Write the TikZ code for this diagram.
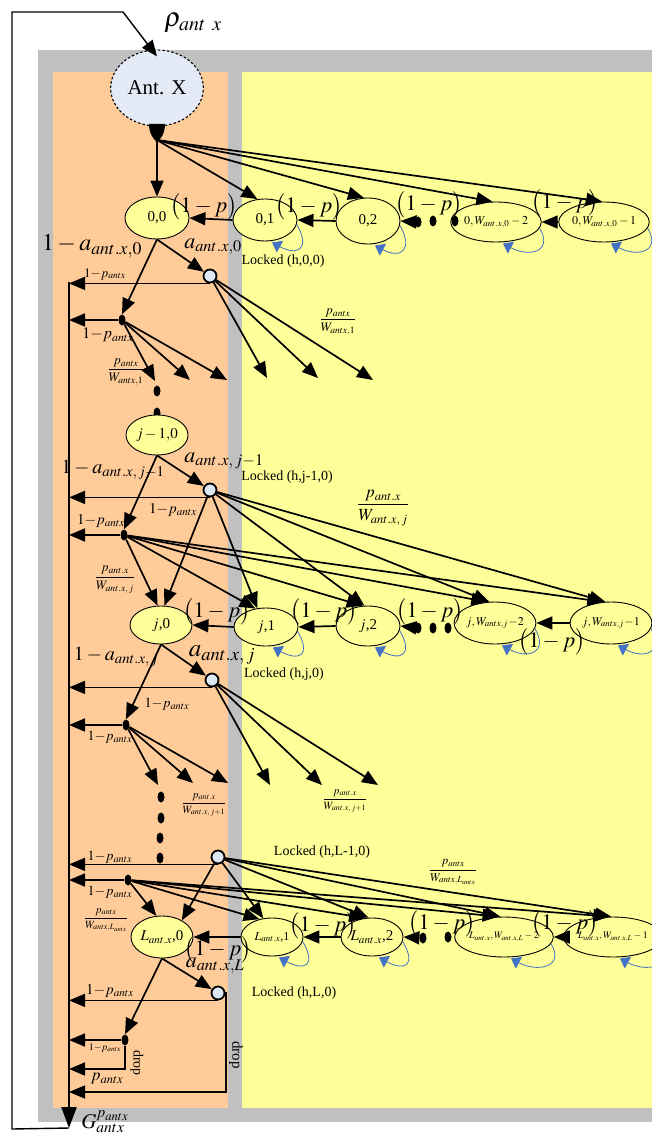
\documentclass[tikz,border=0pt]{standalone}
\usepackage{mathptmx}
\usepackage{fontspec}
\setmainfont{Liberation Serif}
\usetikzlibrary{arrows.meta,shapes.geometric,calc}
\definecolor{gbg}{HTML}{C0C0C0}
\definecolor{obg}{HTML}{FFCC99}
\definecolor{ybg}{HTML}{FFFF99}
\definecolor{sfill}{HTML}{FFFF99}
\definecolor{afill}{HTML}{E4EAF6}
\definecolor{lfill}{HTML}{DDE7F4}
\definecolor{lblue}{HTML}{4472C4}
\newcommand{\fsz}[1]{\fontsize{#1}{#1}\selectfont}
\newcommand{\selfloop}[1]{\draw[sloop] (#1.-8) .. controls +(14,24) and +(26,14) .. ($(#1.south)+(7,1)$);}
\begin{document}
\begin{tikzpicture}[x=1pt,y=-1pt,
 stt/.style={ellipse,draw,line width=0.9pt,fill=sfill,inner sep=0pt,minimum width=64pt,minimum height=42pt,font=\fsz{15}},
 lck/.style={circle,draw,line width=1.8pt,fill=lfill,inner sep=0pt,minimum size=13pt},
 bdot/.style={ellipse,fill=black,inner sep=0pt,minimum width=7pt,minimum height=11pt},
 arr/.style={line width=1.7pt,-{Triangle[length=16pt,width=13pt]}},
 sloop/.style={draw=lblue,line width=0.8pt,-{Triangle[length=9pt,width=13pt]}},
 lbltxt/.style={inner sep=0pt,font=\fsz{14}},
 lblpp/.style={inner sep=0pt,font=\fsz{22}},
 lblpa/.style={inner sep=0pt,font=\fsz{13}},
 lblfr/.style={inner sep=0pt,font=\fsz{12}},
 lblbig/.style={inner sep=0pt,font=\fsz{22}},
 lbldrop/.style={inner sep=0pt,font=\fsz{15},rotate=-90}]
\useasboundingbox (0,0) rectangle (652,1139);
\fill[gbg] (38,50) rectangle (652,1122);
\fill[obg] (53,72) rectangle (228,1108);
\fill[ybg] (242,72) rectangle (652,1108);

% main collecting line
\coordinate (mx) at (69,0);
\coordinate (mt) at (69,282);
\coordinate (mb) at (69,1128);
\draw[line width=2.2pt,-{Triangle[length=21pt,width=15pt]}] (mt) -- (mb);

% Ant X
\node[ellipse,draw,line width=1.1pt,dash pattern=on 2.5pt off 2pt,fill=afill,minimum width=84pt,minimum height=76pt,font=\fsz{21}] (antx) at (157,88) {Ant. X};
\node[inner sep=0pt,font=\fsz{27}] (rho) at (193,23) {$\rho_{ant\ x}$};
\coordinate (c1) at (12,1129);
\coordinate (c2) at (12,12);
\coordinate (c3) at (123,12);
\draw[arr,line width=1.4pt] (mb) -- (c1) -- (c2) -- (c3) -- ($(antx.north)+(0,7)$);
\fill (149,124) -- (165,124) .. controls (165,133) and (161,139) .. (157,142) .. controls (153,139) and (149,133) .. (149,124) -- cycle;
\coordinate (hub) at (157,140);

% Row 0
\node[stt] (s00) at (157,218) {0,0};
\node[stt] (s01) at (265,220) {0,1};
\node[stt,minimum height=46pt] (s02) at (368,221) {0,2};
\node[stt,minimum width=68pt,minimum height=40pt,font=\fsz{12}] (s0a) at (496,222) {$0,W_{ant.x,0}-2$};
\node[stt,minimum height=40pt,font=\fsz{12}] (s0b) at (604,222) {$0,W_{ant.x,0}-1$};
\draw[arr] (hub) -- (s00.north);
\draw[arr] (hub) -- (s01.110);
\draw[arr] (hub) -- (s02.100);
\draw[arr] (hub) -- (s0a.100);
\draw[arr] (hub) -- (s0b.95);
\draw[arr] (s01.west) -- (s00.east);
\draw[arr] (s02.west) -- (s01.east);
\node[bdot] (q0a) at (418,222) {};
\node[bdot] (q0b) at (433,221) {};
\node[bdot] (q0c) at (455,221) {};
\draw[arr] (q0a) -- (s02.east);
\draw[arr] (s0b.west) -- (s0a.east);
\selfloop{s01}\selfloop{s02}\selfloop{s0a}\selfloop{s0b}
\node[lblpp] (p0a) at (204,207) {$\big(1-p\big)$};
\node[lblpp] (p0b) at (309,207) {$\big(1-p\big)$};
\node[lblpp] (p0c) at (429,205) {$\big(1-p\big)$};
\node[lblpp] (p0d) at (565,203) {$\big(1-p\big)$};

\node[inner sep=0pt,font=\fsz{24}] (na0) at (92,246) {$1-a_{ant.x,0}$};
\node[lblbig] (a0) at (213,247) {$a_{ant.x,0}$};
\node[lbltxt] (t0) at (283,261) {Locked (h,0,0)};
\node[lck] (k0) at (210,276) {};
\node[bdot] (d0) at (122,320) {};
\draw[arr] (s00.south) -- (k0);
\draw[arr] (s00.south) -- (d0.north);
\draw[arr] (k0.south) -- (k0.south -| mx);
\draw[arr] (d0) -- (d0 -| mx);
\node[lblpa] (pa0) at (105,274) {$1{-}p_{antx}$};
\node[inner sep=0pt,font=\fsz{16}] (pb0) at (108,335) {$1{-}p_{antx}$};
\coordinate (f0a) at (155,381);
\coordinate (f0b) at (190,380);
\coordinate (f0c) at (227,380);
\coordinate (g0a) at (267,378);
\coordinate (g0b) at (318,378);
\coordinate (g0c) at (373,380);
\draw[arr] (d0) -- (f0a);
\draw[arr] (d0) -- (f0b);
\draw[arr] (d0) -- (f0c);
\draw[arr] (k0) -- (g0a);
\draw[arr] (k0) -- (g0b);
\draw[arr] (k0) -- (g0c);
\node[lblfr,font=\fsz{13}] (fr0a) at (126,372) {$\displaystyle\frac{p_{antx}}{W_{antx,1}}$};
\node[lblfr,font=\fsz{13}] (fr0b) at (338,322) {$\displaystyle\frac{p_{antx}}{W_{antx,1}}$};
\node[bdot] (v0a) at (157,391) {};
\node[bdot] (v0b) at (157,413) {};

% Row j-1
\node[stt,minimum width=62pt,minimum height=40pt] (sj1) at (157,435) {$j-1{,}0$};
\node[lblbig] (a1) at (224,461) {$a_{ant.x,\,j-1}$};
\node[inner sep=0pt,font=\fsz{20}] (na1) at (113,470) {$1-a_{ant.x,\,j-1}$};
\node[lbltxt] (t1) at (287,477) {Locked (h,j-1,0)};
\node[lck] (k1) at (210,490) {};
\node[bdot] (d1) at (124,535) {};
\draw[arr] (sj1.south) -- (k1);
\draw[arr] (sj1.south) -- (d1.north);
\draw[arr] (k1.south) -- (k1.south -| mx);
\draw[arr] (d1) -- (d1 -| mx);
\node[lblpa,font=\fsz{15}] (pa1) at (173,510) {$1{-}p_{antx}$};
\node[lblpa,font=\fsz{15}] (pb1) at (101,521) {$1{-}p_{antx}$};
\node[inner sep=0pt,font=\fsz{13}] (fr1a) at (115,580) {$\displaystyle\frac{p_{ant.x}}{W_{ant.x,\,j}}$};
\node[inner sep=0pt,font=\fsz{17}] (fr1b) at (383,508) {$\displaystyle\frac{p_{ant.x}}{W_{ant.x,\,j}}$};

% Row j
\node[stt,minimum width=62pt,minimum height=38pt] (nj0) at (161,625) {$j$,0};
\node[stt,minimum height=38pt] (nj1) at (266,627) {$j$,1};
\node[stt,minimum height=40pt] (nj2) at (368,626) {$j$,2};
\node[stt,minimum height=42pt,font=\fsz{12}] (njw2) at (495,623) {$j,W_{antx,j}\!-\!2$};
\node[stt,minimum width=72pt,minimum height=42pt,font=\fsz{12}] (njw1) at (611,623) {$j,W_{antx,j}\!-\!1$};
\draw[arr] (k1) -- (nj0.80);
\draw[arr] (d1) -- (nj0.100);
\draw[arr] (k1) -- (nj1.115);
\draw[arr] (d1) -- (nj1.120);
\draw[arr] (k1) -- (nj2.100);
\draw[arr] (d1) -- (nj2.105);
\draw[arr] (k1) -- (njw2.105);
\draw[arr] (d1) -- (njw2.110);
\draw[arr] (k1) -- (njw1.105);
\draw[arr] (d1) -- (njw1.110);
\draw[arr] (nj1.west) -- (nj0.east);
\draw[arr] (nj2.west) -- (nj1.east);
\node[bdot] (qja) at (418,628) {};
\node[bdot] (qjb) at (433,628) {};
\node[bdot] (qjc) at (448,628) {};
\draw[arr] (qja) -- (nj2.east);
\draw[arr] (njw1.west) -- (njw2.east);
\selfloop{nj1}\selfloop{nj2}\selfloop{njw2}\selfloop{njw1}
\node[lblpp] (pja) at (217,612) {$\big(1-p\big)$};
\node[lblpp] (pjb) at (324,612) {$\big(1-p\big)$};
\node[lblpp] (pjc) at (430,612) {$\big(1-p\big)$};
\node[lblpp] (pjd) at (552,642) {$\big(1-p\big)$};

\node[inner sep=0pt,font=\fsz{20}] (na2) at (116,657) {$1-a_{ant.x,\,j}$};
\node[inner sep=0pt,font=\fsz{25}] (a2) at (222,655) {$a_{ant.x,\,j}$};
\node[lbltxt] (t2) at (284,674) {Locked (h,j,0)};
\node[lck] (k2) at (212,680) {};
\node[bdot] (d2) at (126,725) {};
\draw[arr] (nj0.south) -- (k2);
\draw[arr] (nj0.south) -- (d2.north);
\draw[arr] (k2.south) -- (k2.south -| mx);
\draw[arr] (d2) -- (d2 -| mx);
\node[lblpa,font=\fsz{14}] (pa2) at (167,704) {$1{-}p_{antx}$};
\node[lblpa,font=\fsz{14}] (pb2) at (110,737) {$1{-}p_{antx}$};
\coordinate (f2a) at (158,785);
\coordinate (f2b) at (193,783);
\coordinate (f2c) at (228,783);
\coordinate (g2a) at (270,785);
\coordinate (g2b) at (322,785);
\coordinate (g2c) at (378,785);
\draw[arr] (d2) -- (f2a);
\draw[arr] (d2) -- (f2b);
\draw[arr] (d2) -- (f2c);
\draw[arr] (k2) -- (g2a);
\draw[arr] (k2) -- (g2b);
\draw[arr] (k2) -- (g2c);
\node[lblfr,font=\fsz{11}] (fr2a) at (204,805) {$\displaystyle\frac{p_{ant.x}}{W_{ant.x,\,j+1}}$};
\node[lblfr,font=\fsz{11}] (fr2b) at (345,801) {$\displaystyle\frac{p_{ant.x}}{W_{ant.x,\,j+1}}$};
\node[bdot] (v2a) at (161,797) {};
\node[bdot] (v2b) at (161,818) {};
\node[bdot] (v2c) at (160,838) {};
\node[bdot] (v2d) at (160,858) {};

% Row L-1
\node[lck] (k3) at (218,857) {};
\node[lbltxt] (t3) at (322,852) {Locked (h,L-1,0)};
\node[bdot] (d3) at (128,880) {};
\draw[arr] (k3.south) -- (k3.south -| mx);
\draw[arr] (d3) -- (d3 -| mx);
\node[lblpa,font=\fsz{14}] (pa3) at (110,857) {$1{-}p_{antx}$};
\node[lblpa,font=\fsz{14}] (pb3) at (110,892) {$1{-}p_{antx}$};
\node[lblfr,font=\fsz{11}] (fr3a) at (106,920) {$\displaystyle\frac{p_{antx}}{W_{antx,L_{antx}}}$};
\node[lblfr,font=\fsz{12}] (fr3b) at (453,872) {$\displaystyle\frac{p_{antx}}{W_{antx,L_{antx}}}$};

% Row L
\node[stt,minimum width=62pt,minimum height=42pt] (nL0) at (162,937) {$L_{ant.x}$,0};
\node[stt,minimum width=62pt,minimum height=38pt,font=\fsz{12}] (nL1) at (272,937) {$L_{ant.x}$,1};
\node[stt,minimum width=62pt,minimum height=38pt] (nL2) at (372,937) {$L_{ant.x}$,2};
\node[stt,minimum width=76pt,minimum height=40pt,font=\fsz{10}] (nLw2) at (504,937) {$L_{ant.x},W_{ant.x,L}-2$};
\node[stt,minimum width=72pt,minimum height=40pt,font=\fsz{10}] (nLw1) at (613,937) {$L_{ant.x},W_{ant.x,L}-1$};
\draw[arr] (d3) -- (nL0.105);
\draw[arr] (k3) -- (nL0.40);
\draw[arr] (k3) -- (nL1.115);
\draw[arr] (d3) -- (nL1.125);
\draw[arr] (k3) -- (nL2.100);
\draw[arr] (d3) -- (nL2.110);
\draw[arr] (k3) -- (nLw2.100);
\draw[arr] (d3) -- (nLw2.105);
\draw[arr] (k3) -- (nLw1.95);
\draw[arr] (d3) -- (nLw1.100);
\draw[arr] (nL1.west) -- (nL0.east);
\draw[arr] (nL2.west) -- (nL1.east);
\node[bdot] (qLa) at (423,938) {};
\node[bdot] (qLb) at (448,937) {};
\draw[arr] (qLa) -- (nL2.east);
\draw[arr] (nLw1.west) -- (nLw2.east);
\selfloop{nL1}\selfloop{nL2}\selfloop{nLw2}\selfloop{nLw1}
\node[lblpp] (pLa) at (218,950) {$\big(1-p\big)$};
\node[lblpp] (pLb) at (323,926) {$\big(1-p\big)$};
\node[lblpp] (pLc) at (442,924) {$\big(1-p\big)$};
\node[lblpp] (pLd) at (565,924) {$\big(1-p\big)$};

\node[lblbig] (a4) at (215,966) {$a_{ant.x,L}$};
\node[lbltxt] (t4) at (294,993) {Locked (h,L,0)};
\node[lck] (k4) at (218,993) {};
\node[bdot] (dL) at (125,1040) {};
\draw[arr] (nL0.south) -- (k4);
\draw[arr] (nL0.south) -- (dL.north);
\draw[arr] (k4.south) -- (k4.south -| mx);
\node[lblpa,font=\fsz{15}] (pa4) at (110,991) {$1{-}p_{antx}$};
\coordinate (kd) at (226,1092);
\draw[arr] (k4.east) -| (kd) -- (kd -| mx);
\node[lbldrop] (dr1) at (236,1055) {drop};
\draw[arr] (dL) -- (dL -| mx);
\coordinate (dd) at (125,1069);
\draw[arr] (dL) -- (dd) -- (dd -| mx);
\node[lbldrop,font=\fsz{14}] (dr2) at (137,1063) {drop};
\node[lblpa,font=\fsz{10}] (pa5) at (105,1048) {$1{-}p_{antx}$};
\node[inner sep=0pt,font=\fsz{17}] (pb5) at (107,1079) {$p_{antx}$};
\node[inner sep=0pt,font=\fsz{21}] (G) at (105,1122) {$G^{p_{antx}}_{antx}$};
\end{tikzpicture}
\end{document}
